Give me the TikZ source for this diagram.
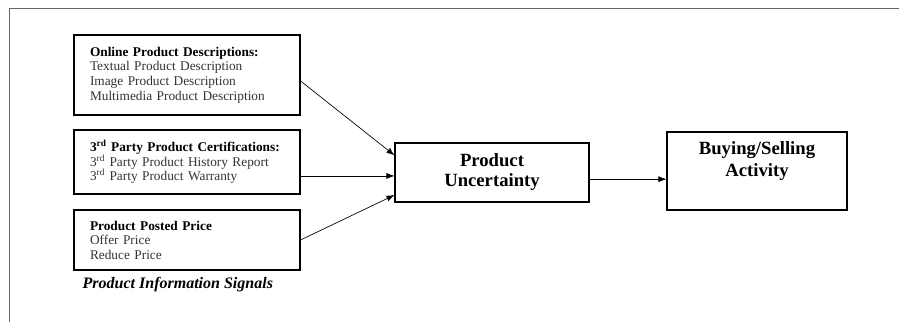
\documentclass[tikz,border=0pt]{standalone}
\usepackage{fontspec}
\setmainfont{Liberation Serif}
\usetikzlibrary{arrows.meta}
\newlength\px
\setlength\px{0.75pt}
\begin{document}
\begin{tikzpicture}[x=0.75pt, y=-0.75pt,
    sigbox/.style={draw, line width=0.8pt, align=left, text width=194\px, inner xsep=16\px,
        font=\fontsize{10}{10.9}\selectfont, text=black!80},
    bigbox/.style={draw, line width=0.8pt, align=center, font=\bfseries\fontsize{14}{15}\selectfont},
    link/.style={line width=0.5pt, -{Latex[length=6pt, width=4.5pt]}}]
    \useasboundingbox (0,0) rectangle (899,322);
    \draw[black!60, line width=0.6pt] (9,322) -- (9,8) -- (899,8);
    \foreach \i/\y/\h/\txt in {
        1/75/80/{\textcolor{black}{\textbf{Online Product Descriptions:}}\\Textual Product Description\\Image Product Description\\Multimedia Product Description},
        2/162/64/{\textcolor{black}{\textbf{3\textsuperscript{rd} Party Product Certifications:}}\\3\textsuperscript{rd} Party Product History Report\\3\textsuperscript{rd} Party Product Warranty},
        3/240/60/{\textcolor{black}{\textbf{Product Posted Price}}\\Offer Price\\Reduce Price}} {
        \node[sigbox, minimum height=\h\px] (sig\i) at (187,\y) {\txt};
    }
    \node[anchor=west, font=\bfseries\itshape\fontsize{12}{13}\selectfont] (siglbl) at (78,285) {Product Information Signals};
    \node[bigbox, minimum width=194\px, minimum height=59\px] (unc) at (492,172.5) {Product\\Uncertainty};
    \node[bigbox, minimum width=180\px, minimum height=78\px] (act) at (757,171) {};
    \node[align=center, font=\bfseries\fontsize{14}{16.5}\selectfont] (actlbl) at (757,161) {Buying/Selling\\Activity};
    \draw[link] (sig1.357) -- (unc.170);
    \draw[link] (sig2.353) -- (sig2.353 -| unc.west);
    \draw[link] (sig3.east) -- (unc.193);
    \draw[link] ([yshift=-5pt]unc.east) -- ([yshift=-5pt]unc.east -| act.west);
\end{tikzpicture}
\end{document}
